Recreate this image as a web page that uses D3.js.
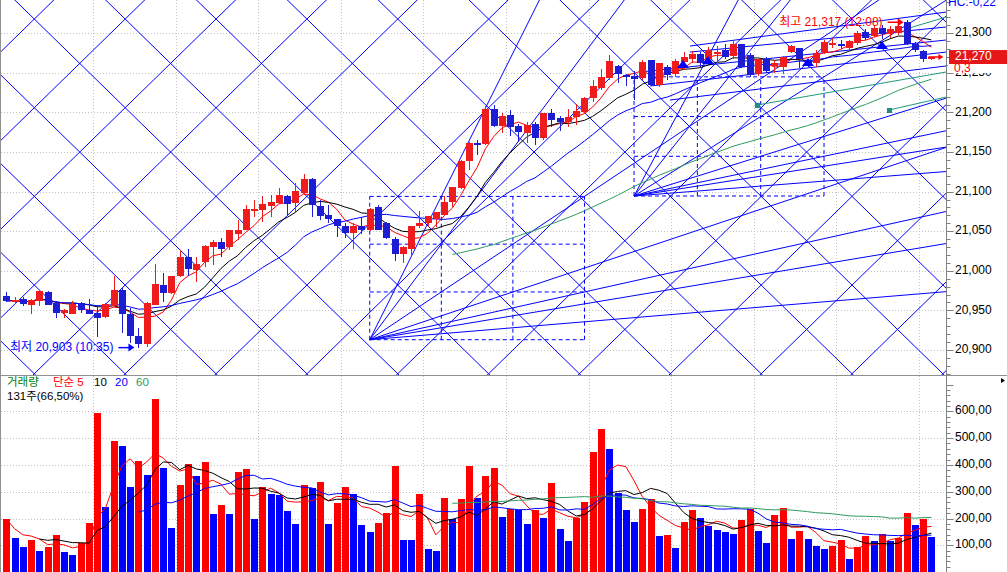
<!DOCTYPE html>
<html><head><meta charset="utf-8">
<script src="https://cdn.jsdelivr.net/npm/d3@7/dist/d3.min.js"></script>
<style>body{margin:0;background:#fff;overflow:hidden}svg{display:block}text{font-family:"Liberation Sans","Noto Sans CJK KR",sans-serif}</style>
</head><body><svg id="c" width="1007" height="572"></svg>
<script>
// ---------------- data ----------------
const opens=[20968,20961,20964,20957,20962,20973,20959,20947,20946,20959,20951,20947,20942,20956,20976,20946,20918,20908,20957,20982,
20972,20993,21017,21001,21011,21030,21036,21030,21047,21052,21076,21077,21082,21086,21095,21086,21098,21116,21082,21071,
21066,21057,21048,21057,21051,21081,21060,21040,21021,21028,21056,21060,21065,21071,21087,21104,21139,21161,21160,21204,
21183,21197,21183,21174,21186,21168,21199,21193,21188,21194,21201,21218,21231,21243,21259,21247,21246,21243,21266,21235,
21258,21249,21264,21267,21274,21268,21274,21279,21271,21286,21273,21249,21267,21259,21258,21277,21281,21266,21263,21276,
21285,21287,21281,21288,21302,21297,21307,21299,21301,21314,21287,21278,21268];
const highs=[20973,20967,20967,20964,20976,20975,20962,20952,20962,20961,20965,20957,20959,20994,20978,20953,20928,20960,21009,20997,
20994,21026,21028,21017,21032,21039,21041,21052,21064,21083,21090,21095,21096,21104,21096,21111,21122,21117,21089,21083,
21066,21060,21060,21068,21079,21083,21062,21043,21031,21057,21075,21069,21074,21095,21106,21140,21163,21165,21208,21210,
21199,21203,21186,21188,21188,21199,21205,21195,21205,21211,21220,21241,21255,21272,21260,21248,21252,21266,21266,21263,
21260,21268,21277,21278,21276,21283,21284,21287,21292,21287,21275,21268,21270,21266,21271,21285,21281,21268,21279,21292,
21294,21292,21292,21303,21305,21309,21311,21309,21312,21317,21289,21279,21270];
const lows=[20961,20958,20955,20946,20955,20957,20941,20940,20945,20947,20945,20917,20941,20954,20921,20909,20903,20904,20957,20960,
20971,20992,20993,20986,21005,21007,21017,21026,21039,21052,21068,21062,21068,21085,21071,21073,21096,21068,21064,21060,
21043,21041,21027,21047,21050,21052,21040,21012,21010,21018,21054,21055,21055,21069,21081,21103,21127,21146,21159,21182,
21174,21170,21163,21161,21159,21165,21182,21176,21182,21184,21199,21213,21228,21241,21237,21233,21216,21241,21233,21232,
21241,21245,21254,21262,21258,21262,21263,21268,21268,21256,21245,21246,21250,21250,21249,21275,21256,21258,21258,21274,
21282,21280,21278,21285,21291,21295,21293,21294,21298,21285,21277,21264,21266];
const closes=[20962,20963,20958,20963,20975,20957,20947,20951,20958,20951,20946,20940,20958,20976,20946,20918,20908,20959,20983,20972,
20994,21017,21002,21009,21031,21036,21028,21051,21051,21078,21078,21084,21087,21096,21085,21101,21116,21083,21069,21065,
21056,21048,21057,21051,21078,21052,21041,21021,21030,21057,21060,21069,21074,21087,21106,21139,21162,21159,21204,21183,
21195,21182,21175,21184,21168,21199,21191,21188,21194,21202,21218,21233,21245,21265,21249,21245,21242,21264,21235,21262,
21247,21265,21270,21274,21262,21279,21276,21270,21286,21258,21247,21267,21252,21262,21270,21284,21268,21262,21275,21289,
21288,21284,21290,21300,21294,21307,21299,21305,21309,21287,21279,21267,21270];
const volumes=[198,126,94,120,80,94,138,76,64,107,183,594,243,489,471,318,415,362,646,388,
164,325,403,358,411,217,250,217,373,385,198,318,291,288,228,180,325,314,336,180,
258,318,291,176,151,183,220,396,120,118,291,86,80,276,200,273,396,276,358,388,
205,235,231,180,231,202,332,161,116,202,261,448,534,459,295,231,187,235,272,135,
138,90,187,231,202,172,157,150,142,194,235,153,108,213,239,125,153,125,97,86,
97,120,49,94,135,116,142,116,127,220,176,198,131];
const priceTicks=[20900,20950,21000,21050,21100,21150,21200,21250,21300];
const priceTickLabels=["20,900","20,950","21,000","21,050","21,100","21,150","21,200","21,250","21,300"];
const volumeTicks=[100,200,300,400,500,600];
const volumeTickLabels=["100,00","200,00","300,00","400,00","500,00","600,00"];
const maPeriods=[5,10,20,60];
const maColors=["#ff0000","#000000","#0000ff","#2e9a5e"];
const priceMAStart=[0,0,0,54];
const volumeMAStart=[0,4,16,54];
const gridIdx=[10.5,20.5,30.5,40.5,50.5,60.5,70.5,80.5,90.5,100.5,110.5];
// Gann grid (diamond lattice), boxes and fans in index/price units
const lattice={i0:3.39,p0:21318,di:5.5,dp:56};
const boxes=[{i0:44,i1:70,p0:20913,p1:21094},{i0:76,i1:99,p0:21094.5,p1:21245}];
const fanRatios=[[1,8],[1,4],[1,3],[1,2],[1,1],[2,1],[3,1]];
const trendLines=[[82.77,21283.9,113.77,21326.8],[82.77,21276.3,113.77,21307.9],[76.72,21251.1,113.77,21291.5],[77.93,21233.4,113.77,21276.3],[80.35,21215.7,113.77,21258.7]];
const tealLines=[[90.88,21209.4,113.77,21251.1],[106.86,21203.1,113.77,21219.5],[108.92,21305.4,113.77,21320.5]];
const triangles=[[81.93,21261.2],[84.95,21266.2],[97.06,21263.7],[106.02,21285.2]];
const highInfo={i:109,p:21317,text:"최고 21,317 (12:08)"};
const lowInfo={i:16,p:20903,text:"최저 20,903 (10:35)"};
const lastPrice=21270, lastPriceText="21,270", changeText="0,3", hcText="HC:-0,22";
const volInfo="131주(66,50%)";

// ---------------- scales ----------------
const N=closes.length;
const svg=d3.select("#c");
const R=946.5;
const x=d3.scaleLinear().domain([0,112]).range([6.3,931.4]);
const yP=d3.scaleLinear().domain([20900,21300]).range([350,33.3]);
const yV=d3.scaleLinear().domain([0,600]).range([572.1,411.3]);
const defs=svg.append("defs");
defs.append("clipPath").attr("id","cp").append("rect").attr("x",1).attr("y",0).attr("width",R-1).attr("height",375);
defs.append("clipPath").attr("id","cv").append("rect").attr("x",1).attr("y",376).attr("width",R-1).attr("height",196);

const gP=svg.append("g").attr("clip-path","url(#cp)");
const gV=svg.append("g").attr("clip-path","url(#cv)");

// grids
const gridCol="#c4c4c4";
gP.selectAll(".hg").data(priceTicks).join("line").attr("x1",1).attr("x2",R).attr("y1",d=>Math.round(yP(d))+0.5).attr("y2",d=>Math.round(yP(d))+0.5).attr("stroke",gridCol).attr("stroke-dasharray","1,2");
gP.selectAll(".vg").data(gridIdx).join("line").attr("x1",d=>Math.round(x(d))+0.5).attr("x2",d=>Math.round(x(d))+0.5).attr("y1",0).attr("y2",375).attr("stroke",gridCol).attr("stroke-dasharray","1,2");
gV.selectAll(".hg").data(volumeTicks).join("line").attr("x1",1).attr("x2",R).attr("y1",d=>Math.round(yV(d))+0.5).attr("y2",d=>Math.round(yV(d))+0.5).attr("stroke",gridCol).attr("stroke-dasharray","1,2");
gV.selectAll(".vg").data(gridIdx).join("line").attr("x1",d=>Math.round(x(d))+0.5).attr("x2",d=>Math.round(x(d))+0.5).attr("y1",376).attr("y2",572).attr("stroke",gridCol).attr("stroke-dasharray","1,2");

// lattice
const latt=[];
for(let n=-25;n<=25;n++){
  const a1=-40,a2=40;
  latt.push([lattice.i0+lattice.di*a1,lattice.p0-lattice.dp*(a1-2*n),lattice.i0+lattice.di*a2,lattice.p0-lattice.dp*(a2-2*n)]);
  latt.push([lattice.i0+lattice.di*a1,lattice.p0-lattice.dp*(2*n-a1),lattice.i0+lattice.di*a2,lattice.p0-lattice.dp*(2*n-a2)]);
}
gP.append("g").selectAll("line").data(latt).join("line")
 .attr("x1",d=>x(d[0])).attr("y1",d=>yP(d[1])).attr("x2",d=>x(d[2])).attr("y2",d=>yP(d[3]))
 .attr("stroke","#0000ff").attr("stroke-width",1);

// boxes
boxes.forEach(b=>{
  const g=gP.append("g").attr("stroke","#0000ff").attr("stroke-dasharray","4,3").attr("fill","none");
  for(let k=0;k<=3;k++){
    const ii=b.i0+(b.i1-b.i0)*k/3, pp=b.p0+(b.p1-b.p0)*k/3;
    g.append("line").attr("x1",x(ii)).attr("x2",x(ii)).attr("y1",yP(b.p0)).attr("y2",yP(b.p1));
    g.append("line").attr("x1",x(b.i0)).attr("x2",x(b.i1)).attr("y1",yP(pp)).attr("y2",yP(pp));
  }
  const ui=(b.i1-b.i0)/3, up=(b.p1-b.p0)/3;
  gP.append("g").selectAll("line").data(fanRatios).join("line")
   .attr("x1",x(b.i0)).attr("y1",yP(b.p0))
   .attr("x2",d=>x(b.i0+ui*d[1]*30)).attr("y2",d=>yP(b.p0+up*d[0]*30))
   .attr("stroke","#0000ff");
});

// trend lines
gP.append("g").selectAll("line").data(trendLines).join("line")
 .attr("x1",d=>x(d[0])).attr("y1",d=>yP(d[1])).attr("x2",d=>x(d[2])).attr("y2",d=>yP(d[3])).attr("stroke","#0000ff");
gP.append("g").selectAll("line").data(tealLines).join("line")
 .attr("x1",d=>x(d[0])).attr("y1",d=>yP(d[1])).attr("x2",d=>x(d[2])).attr("y2",d=>yP(d[3])).attr("stroke","#1f9a7a");
gP.append("g").selectAll("rect").data(tealLines).join("rect")
 .attr("x",d=>x(d[0])-2).attr("y",d=>yP(d[1])-2).attr("width",5).attr("height",5).attr("fill","#1f8f80");

// moving averages
function sma(arr,n,start){return arr.map((v,i)=>i<start?null:d3.mean(arr.slice(Math.max(0,i-n+1),i+1)));}
const line=(ys)=>d3.line().defined(d=>d!=null).x((d,i)=>x(i)).y(d=>ys(d));
maPeriods.forEach((p,k)=>{
  const m=sma(closes,p,priceMAStart[k]);
  gP.append("path").datum(m).attr("d",line(yP)).attr("fill","none").attr("stroke",maColors[k]).attr("stroke-width",1);
});

// candles
const cRed="#ee1c1c", cBlue="#1c1cd2";
const cg=gP.append("g").attr("shape-rendering","crispEdges");
const idx=d3.range(N);
cg.selectAll("line").data(idx).join("line")
 .attr("x1",i=>Math.round(x(i))+0.5).attr("x2",i=>Math.round(x(i))+0.5)
 .attr("y1",i=>yP(highs[i])).attr("y2",i=>yP(lows[i]))
 .attr("stroke",i=>closes[i]>=opens[i]?cRed:cBlue);
cg.selectAll("rect").data(idx).join("rect")
 .attr("x",i=>Math.round(x(i))-3).attr("width",7)
 .attr("y",i=>yP(Math.max(opens[i],closes[i])))
 .attr("height",i=>Math.max(1,Math.abs(yP(opens[i])-yP(closes[i]))))
 .attr("fill",i=>closes[i]>=opens[i]?cRed:cBlue);

// triangles
gP.append("g").selectAll("path").data(triangles).join("path")
 .attr("d",d=>{const cx=x(d[0]),cy=yP(d[1]);return `M${cx-6},${cy+4}L${cx},${cy-4}L${cx+6},${cy+4}Z`;})
 .attr("fill","#0000ff");

// high / low labels
const hx=x(highInfo.i), hy=yP(highInfo.p)+2.5;
gP.append("text").attr("x",hx-24).attr("y",hy).attr("text-anchor","end").attr("dominant-baseline","middle")
 .attr("fill","#ff0000").attr("font-size",12).attr("font-family","Noto Sans CJK KR").text(highInfo.text);
gP.append("line").attr("x1",hx-19).attr("x2",hx-8).attr("y1",hy).attr("y2",hy).attr("stroke","#ff0000").attr("stroke-width",1.5);
gP.append("path").attr("d",`M${hx-9},${hy-4}L${hx-3},${hy}L${hx-9},${hy+4}Z`).attr("fill","#ff0000");
const lx=x(lowInfo.i), ly=yP(lowInfo.p);
gP.append("text").attr("x",lx-25).attr("y",ly).attr("text-anchor","end").attr("dominant-baseline","middle")
 .attr("fill","#0000ff").attr("font-size",12).attr("font-family","Noto Sans CJK KR").text(lowInfo.text);
gP.append("line").attr("x1",lx-20).attr("x2",lx-9).attr("y1",ly).attr("y2",ly).attr("stroke","#0000ff").attr("stroke-width",1.5);
gP.append("path").attr("d",`M${lx-10},${ly-4}L${lx-4},${ly}L${lx-10},${ly+4}Z`).attr("fill","#0000ff");
// current price arrow
const cx0=x(N-1), cy0=yP(lastPrice);
gP.append("line").attr("x1",cx0-3).attr("x2",cx0+8).attr("y1",cy0).attr("y2",cy0).attr("stroke","#ff0000").attr("stroke-width",1.5);
gP.append("path").attr("d",`M${cx0+7},${cy0-3}L${cx0+12},${cy0}L${cx0+7},${cy0+3}Z`).attr("fill","#ff0000");

// volume bars
const vCol=i=>(i===0||volumes[i]>=volumes[i-1])?"#ff0000":"#0000ff";
gV.append("g").attr("shape-rendering","crispEdges").selectAll("rect").data(idx).join("rect")
 .attr("x",i=>Math.round(x(i))-3).attr("width",7)
 .attr("y",i=>yV(volumes[i])).attr("height",i=>yV(0)-yV(volumes[i]))
 .attr("fill",vCol);
maPeriods.forEach((p,k)=>{
  const m=sma(volumes,p,volumeMAStart[k]);
  gV.append("path").datum(m).attr("d",line(yV)).attr("fill","none").attr("stroke",maColors[k]).attr("stroke-width",1);
});

// frame
svg.append("line").attr("x1",0.5).attr("x2",0.5).attr("y1",0).attr("y2",572).attr("stroke","#909090");
svg.append("line").attr("x1",0).attr("x2",1007).attr("y1",375.5).attr("y2",375.5).attr("stroke","#909090");
svg.append("line").attr("x1",R).attr("x2",R).attr("y1",0).attr("y2",572).attr("stroke","#808080");

// price axis
const pMinor=d3.range(20860,21350,10).filter(v=>yP(v)>0&&yP(v)<375);
svg.append("g").selectAll("line").data(pMinor).join("line")
 .attr("x1",R).attr("x2",d=>d%50===0?R+7:R+4).attr("y1",d=>Math.round(yP(d))+0.5).attr("y2",d=>Math.round(yP(d))+0.5).attr("stroke","#808080");
svg.append("g").selectAll("text").data(priceTicks).join("text")
 .attr("x",955).attr("y",d=>yP(d)).attr("dominant-baseline","middle").attr("font-size",12).attr("fill","#000")
 .text((d,i)=>priceTickLabels[i]);
const vMinor=d3.range(0,720,20).filter(v=>yV(v)>377&&yV(v)<572);
svg.append("g").selectAll("line").data(vMinor).join("line")
 .attr("x1",R).attr("x2",d=>d%100===0?R+7:R+4).attr("y1",d=>Math.round(yV(d))+0.5).attr("y2",d=>Math.round(yV(d))+0.5).attr("stroke","#808080");
svg.append("g").selectAll("text").data(volumeTicks).join("text")
 .attr("x",955).attr("y",d=>yV(d)).attr("dominant-baseline","middle").attr("font-size",12).attr("fill","#000")
 .text((d,i)=>volumeTickLabels[i]);

// price tag
const ty=yP(lastPrice);
svg.append("rect").attr("x",949).attr("y",ty-7).attr("width",58).attr("height",14).attr("fill","#e61717");
svg.append("text").attr("x",955).attr("y",ty).attr("dominant-baseline","middle").attr("font-size",12).attr("fill","#fff").text(lastPriceText);
svg.append("rect").attr("x",948).attr("y",ty+7).attr("width",59).attr("height",9).attr("fill","#fff");
svg.append("text").attr("x",954).attr("y",ty+12).attr("dominant-baseline","middle").attr("font-size",12).attr("fill","#ff0000").text(changeText);
svg.append("text").attr("x",948).attr("y",6).attr("font-size",12).attr("fill","#0000ff").text(hcText);
svg.append("path").attr("d","M1001,378L1005,380.5L1001,383Z").attr("fill","#000");

// volume legend
const lg=svg.append("g").attr("font-family","Noto Sans CJK KR").attr("font-size",11.5);
[["거래량",7,"#008000"],["단순 5",53,"#ff0000"],["10",94,"#000"],["20",115,"#0000ff"],["60",136,"#2e9a5e"]].forEach(d=>{
  lg.append("text").attr("x",d[1]).attr("y",383).attr("dominant-baseline","middle").attr("fill",d[2]).text(d[0]);
});
lg.append("text").attr("x",7).attr("y",397).attr("dominant-baseline","middle").attr("fill","#000").text(volInfo);
</script></body></html>
